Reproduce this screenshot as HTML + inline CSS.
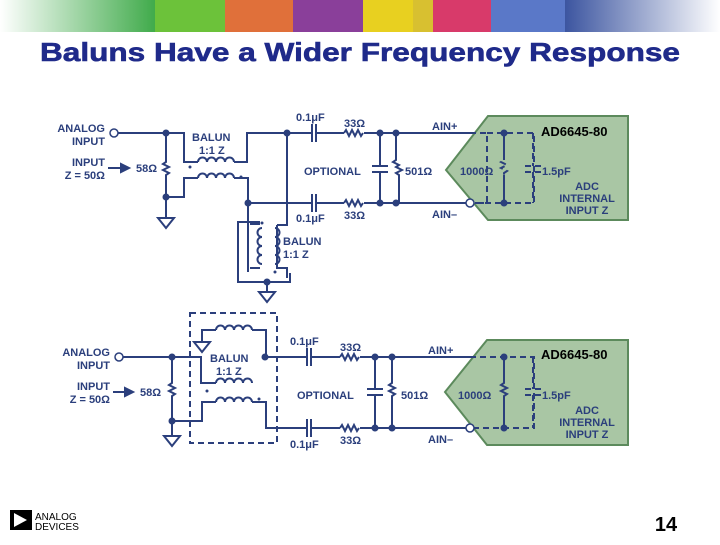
<!DOCTYPE html>
<html><head><meta charset="utf-8"><style>
body{margin:0;width:720px;height:540px;background:#fff;overflow:hidden;font-family:"Liberation Sans",sans-serif}
</style></head><body>
<svg width="720" height="540" viewBox="0 0 720 540" xmlns="http://www.w3.org/2000/svg" font-family="Liberation Sans, sans-serif">
<defs>
<linearGradient id="gl" x1="0" x2="1"><stop offset="0" stop-color="#fff"/><stop offset="1" stop-color="#3aa845"/></linearGradient>
<linearGradient id="gr" x1="0" x2="1"><stop offset="0" stop-color="#3c55a0"/><stop offset="1" stop-color="#fff"/></linearGradient>
</defs>
<rect x="0" y="0" width="160" height="32" fill="url(#gl)"/>
<rect x="155" y="0" width="70" height="32" fill="#6cc23a"/>
<rect x="225" y="0" width="68" height="32" fill="#e0703a"/>
<rect x="293" y="0" width="70" height="32" fill="#8a3f9a"/>
<rect x="363" y="0" width="50" height="32" fill="#e8d020"/>
<rect x="413" y="0" width="20" height="32" fill="#d8c030"/>
<rect x="433" y="0" width="58" height="32" fill="#d83a6a"/>
<rect x="491" y="0" width="74" height="32" fill="#5a78c8"/>
<rect x="565" y="0" width="155" height="32" fill="url(#gr)"/>
<text x="40" y="61" font-size="26" font-weight="bold" fill="#1f2a8a" textLength="640" lengthAdjust="spacingAndGlyphs" stroke="#1f2a8a" stroke-width="0.6">Baluns Have a Wider Frequency Response</text>

<g stroke="#2b3f7c" stroke-width="2" fill="none">
<polygon points="446,170 488,116 628,116 628,220 488,220" fill="#a9c6a4" stroke="#5c8a5c"/>
<path d="M118 133 H184 V162 H198 M234 162 H247 V133 H312 M316 133 H344 M364 133 H470"/>
<path d="M198 162 a4.5 4.5 0 0 1 9 0 a4.5 4.5 0 0 1 9 0 a4.5 4.5 0 0 1 9 0 a4.5 4.5 0 0 1 9 0"/>
<path d="M198 178 a4.5 4.5 0 0 1 9 0 a4.5 4.5 0 0 1 9 0 a4.5 4.5 0 0 1 9 0 a4.5 4.5 0 0 1 9 0"/>
<path d="M344 133 l2 -3 l3 6 l3 -6 l3 6 l3 -6 l3 6 l2 -3"/>
<path d="M344 203 l2 -3 l3 6 l3 -6 l3 6 l3 -6 l3 6 l2 -3"/>
<path d="M166 133 V162 l-3 2 l6 3 l-6 3 l6 3 l-3 2 V218"/>
<path d="M166 197 H184 V178 H198 M234 178 H248 V203 H312 M316 203 H344 M364 203 H466"/>
<path d="M312 124 V142 M316 124 V142 M312 194 V212 M316 194 V212"/>
<path d="M158 218 h16 l-8 10 z"/>
<path d="M380 133 V166 M372 166 H388 M372 172 H388 M380 172 V203"/>
<path d="M396 133 V160 l-3 2 l6 3 l-3 2 l6 3 l-6 3 l3 2 V203"/>
<path d="M287 133 V225 H277 M277 225 V268 H287 V278"/>
<path d="M277 228 a4.5 4.5 0 0 1 0 9 a4.5 4.5 0 0 1 0 9 a4.5 4.5 0 0 1 0 9 a4.5 4.5 0 0 1 0 9" transform="translate(-2,0)"/>
<path d="M248 203 V272 M260 224 H250 M260 268 H250"/>
<path d="M262 228 a4.5 4.5 0 0 0 0 9 a4.5 4.5 0 0 0 0 9 a4.5 4.5 0 0 0 0 9 a4.5 4.5 0 0 0 0 9"/>
<path d="M260 222 H238 V282 H290 V273 M267 282 V292 M259 292 h16 l-8 10 z"/>
<path d="M470 133 H487 V203 H470 M504 133 V160 l-3 2 l6 3 l-6 3 l6 3 l-3 2 V203 M533 133 V166 M525 166 H541 M525 172 H541 M533 172 V203" stroke-dasharray="6 4"/>
<path d="M487 133 H534 V203 H474" stroke-dasharray="6 4"/>
<path d="M504 135 V160 M504 175 V201"/>
<path d="M108 168 H122"/><path d="M121 164 l8 4 l-8 4 z" fill="#2b3f7c"/>

<polygon points="445,392 487,340 628,340 628,445 487,445" fill="#a9c6a4" stroke="#5c8a5c"/>
<rect x="190" y="313" width="87" height="130" stroke-dasharray="6 4"/>
<path d="M123 357 H201 V383 H216"/>
<path d="M202 342 V330 H216 M252 330 H266 V357 M194 342 h16 l-8 10 z"/>
<path d="M216 330 a4.5 4.5 0 0 1 9 0 a4.5 4.5 0 0 1 9 0 a4.5 4.5 0 0 1 9 0 a4.5 4.5 0 0 1 9 0"/>
<path d="M216 383 a4.5 4.5 0 0 1 9 0 a4.5 4.5 0 0 1 9 0 a4.5 4.5 0 0 1 9 0 a4.5 4.5 0 0 1 9 0"/>
<path d="M216 402 a4.5 4.5 0 0 1 9 0 a4.5 4.5 0 0 1 9 0 a4.5 4.5 0 0 1 9 0 a4.5 4.5 0 0 1 9 0"/>
<path d="M265 357 H307 M311 357 H340 M360 357 H470"/>
<path d="M172 421 H202 V402 H216 M252 402 H266 V428 H307 M311 428 H340 M360 428 H466"/>
<path d="M307 348 V366 M311 348 V366 M307 419 V437 M311 419 V437"/>
<path d="M340 357 l2 -3 l3 6 l3 -6 l3 6 l3 -6 l3 6 l2 -3"/>
<path d="M340 428 l2 -3 l3 6 l3 -6 l3 6 l3 -6 l3 6 l2 -3"/>
<path d="M172 357 V383 l-3 2 l6 3 l-6 3 l6 3 l-3 2 V436 M164 436 h16 l-8 10 z"/>
<path d="M375 357 V389 M367 389 H383 M367 395 H383 M375 395 V428"/>
<path d="M392 357 V383 l-3 2 l6 3 l-6 3 l6 3 l-3 2 V428"/>
<path d="M470 357 H534 V428 H474 M533 357 V389 M525 389 H541 M525 395 H541 M533 395 V428" stroke-dasharray="6 4"/>
<path d="M504 357 V383 l-3 2 l6 3 l-6 3 l6 3 l-3 2 V428"/>
<path d="M113 392 H126"/><path d="M125 388 l8 4 l-8 4 z" fill="#2b3f7c"/>
</g>
<g fill="#2b3f7c">
<circle cx="166" cy="133" r="3.5"/><circle cx="166" cy="197" r="3.5"/><circle cx="287" cy="133" r="3.5"/><circle cx="248" cy="203" r="3.5"/>
<circle cx="380" cy="133" r="3.5"/><circle cx="396" cy="133" r="3.5"/><circle cx="380" cy="203" r="3.5"/><circle cx="396" cy="203" r="3.5"/>
<circle cx="504" cy="133" r="3.5"/><circle cx="504" cy="203" r="3.5"/><circle cx="267" cy="282" r="3.5"/>
<circle cx="190" cy="167" r="1.5"/><circle cx="241" cy="177" r="1.5"/><circle cx="262" cy="223" r="1.5"/><circle cx="275" cy="272" r="1.5"/>
<circle cx="172" cy="357" r="3.5"/><circle cx="172" cy="421" r="3.5"/><circle cx="265" cy="357" r="3.5"/>
<circle cx="375" cy="357" r="3.5"/><circle cx="392" cy="357" r="3.5"/><circle cx="375" cy="428" r="3.5"/><circle cx="392" cy="428" r="3.5"/>
<circle cx="504" cy="357" r="3.5"/><circle cx="504" cy="428" r="3.5"/>
<circle cx="207" cy="391" r="1.5"/><circle cx="259" cy="399" r="1.5"/>
</g>
<g fill="#fff" stroke="#2b3f7c" stroke-width="1.5">
<circle cx="114" cy="133" r="4"/><circle cx="470" cy="203" r="4"/>
<circle cx="119" cy="357" r="4"/><circle cx="470" cy="428" r="4"/>
</g>
<g font-size="11" font-weight="bold" fill="#2b3f7c">
<text x="105" y="132" text-anchor="end">ANALOG</text><text x="105" y="145" text-anchor="end">INPUT</text>
<text x="105" y="166" text-anchor="end">INPUT</text><text x="105" y="179" text-anchor="end">Z = 50Ω</text>
<text x="136" y="172">58Ω</text>
<text x="192" y="141">BALUN</text><text x="199" y="154">1:1 Z</text>
<text x="296" y="121">0.1μF</text><text x="344" y="127">33Ω</text>
<text x="304" y="175">OPTIONAL</text><text x="405" y="175">501Ω</text>
<text x="296" y="222">0.1μF</text><text x="344" y="219">33Ω</text>
<text x="283" y="245">BALUN</text><text x="283" y="258">1:1 Z</text>
<text x="432" y="130">AIN+</text><text x="432" y="218">AIN–</text>
<text x="460" y="175">1000Ω</text><text x="542" y="175">1.5pF</text>
<text x="541" y="136" font-size="13" fill="#000">AD6645-80</text>
<text x="587" y="190" text-anchor="middle">ADC</text><text x="587" y="202" text-anchor="middle">INTERNAL</text><text x="587" y="214" text-anchor="middle">INPUT Z</text>

<text x="110" y="356" text-anchor="end">ANALOG</text><text x="110" y="369" text-anchor="end">INPUT</text>
<text x="110" y="390" text-anchor="end">INPUT</text><text x="110" y="403" text-anchor="end">Z = 50Ω</text>
<text x="140" y="396">58Ω</text>
<text x="210" y="362">BALUN</text><text x="216" y="375">1:1 Z</text>
<text x="290" y="345">0.1μF</text><text x="340" y="351">33Ω</text>
<text x="297" y="399">OPTIONAL</text><text x="401" y="399">501Ω</text>
<text x="290" y="448">0.1μF</text><text x="340" y="444">33Ω</text>
<text x="428" y="354">AIN+</text><text x="428" y="443">AIN–</text>
<text x="458" y="399">1000Ω</text><text x="542" y="399">1.5pF</text>
<text x="541" y="359" font-size="13" fill="#000">AD6645-80</text>
<text x="587" y="414" text-anchor="middle">ADC</text><text x="587" y="426" text-anchor="middle">INTERNAL</text><text x="587" y="438" text-anchor="middle">INPUT Z</text>
</g>
<rect x="10" y="510" width="22" height="20" fill="#000"/>
<path d="M14 513 L27 520 L14 527 Z" fill="#fff"/>
<text x="35" y="520" font-size="10" fill="#000">ANALOG</text>
<text x="35" y="530" font-size="10" fill="#000">DEVICES</text>
<text x="666" y="531" text-anchor="middle" font-size="20" font-weight="bold" fill="#000">14</text>
</svg>
</body></html>
